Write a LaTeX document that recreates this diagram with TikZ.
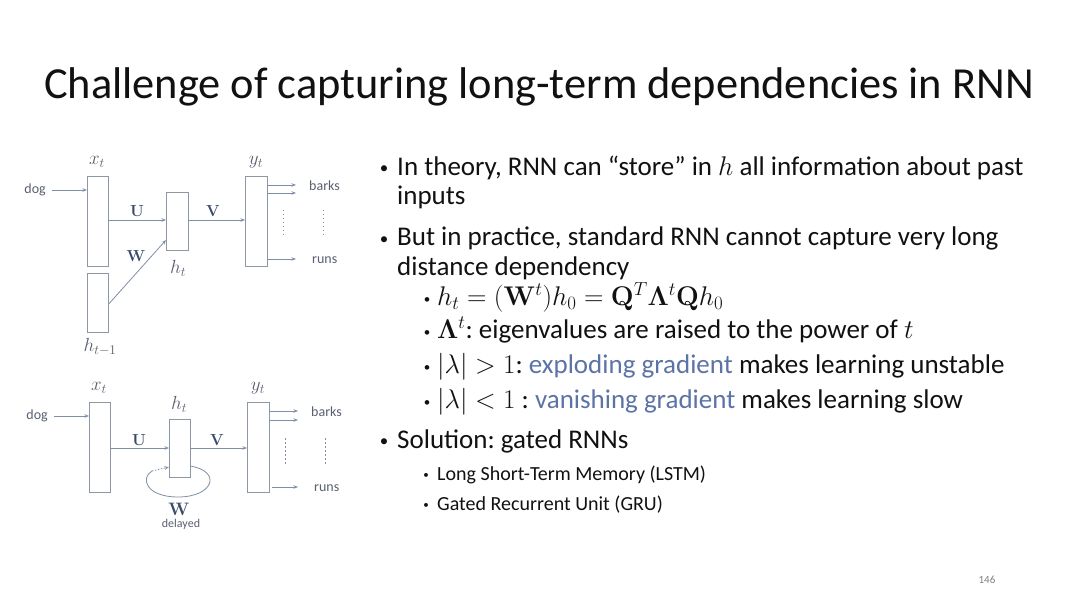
\RequirePackage{fix-cm}
\documentclass[tikz,border=0pt]{standalone}
\usepackage{amsmath}
\usepackage{bm}
\usepackage[no-math]{fontspec}
\setmainfont{Carlito}
\usetikzlibrary{arrows.meta}
\definecolor{ln}{HTML}{7F8FA6}
\definecolor{bx}{HTML}{8E98A4}
\definecolor{lb}{HTML}{5A6070}
\definecolor{bl}{HTML}{3A4A6B}
\definecolor{hl}{HTML}{5B73A6}
\definecolor{tx}{HTML}{111111}
\frenchspacing
\begin{document}
\begin{tikzpicture}[x=1pt,y=-1pt,
  cell/.style={draw=bx,line width=0.8pt,fill=white},
  conn/.style={draw=ln,line width=0.8pt,-{Stealth[length=4.5pt,width=3.5pt]}},
  wlab/.style={font=\fontsize{14}{16}\selectfont,text=lb,inner sep=0},
  mlab/.style={font=\fontsize{19}{21}\selectfont,text=lb,inner sep=0},
  blab/.style={font=\fontsize{16}{18}\selectfont,text=bl,inner sep=0},
  vdots/.style={draw=ln,line width=0.8pt,dash pattern=on 1.5pt off 2.5pt},
  body/.style={anchor=base west,inner sep=0,text=tx,font=\fontsize{27}{30}\selectfont},
  sub/.style={anchor=base west,inner sep=0,text=tx,font=\fontsize{27}{30}\selectfont},
  subsub/.style={anchor=base west,inner sep=0,text=tx,font=\fontsize{20}{23}\selectfont},
  dot/.style={anchor=base,inner sep=0,text=tx}]
\useasboundingbox (0,0) rectangle (1080,607);
\fill[white] (0,0) rectangle (1080,607);

% Title
\node[anchor=base,inner sep=0,text=tx,font=\fontsize{44.4}{50}\selectfont] (title) at (539,99) {Challenge of capturing long-term dependencies in RNN};

% ===== Top diagram =====
\node[cell,minimum width=21pt,minimum height=90pt,inner sep=0,anchor=north west] (x1) at (87,176) {};
\node[cell,minimum width=21pt,minimum height=59pt,inner sep=0,anchor=north west] (hp) at (87,273) {};
\node[cell,minimum width=22pt,minimum height=58pt,inner sep=0,anchor=north west] (h1) at (166,192) {};
\node[cell,minimum width=22pt,minimum height=90pt,inner sep=0,anchor=north west] (y1) at (245,176) {};
\node[mlab] (x1l) at (97,162) {$x_t$};
\node[mlab] (hpl) at (100,347) {$h_{t-1}$};
\node[mlab] (h1l) at (178,268) {$h_t$};
\node[mlab] (y1l) at (256,162) {$y_t$};
\node[wlab,anchor=east] (dog1) at (46,190) {dog};
\draw[conn] (dog1.east) ++(6,0) coordinate (dog1s) -- (x1.west |- dog1s);
\coordinate (u1s) at (108,220);
\draw[conn] (u1s) -- (h1.west |- u1s);
\node[blab] (u1l) at (137,211) {$\mathbf{U}$};
\draw[conn] (hp.east) ++(0,1) -- (166,240);
\node[blab] (w1l) at (136,256) {$\mathbf{W}$};
\coordinate (v1s) at (188,220);
\draw[conn] (v1s) -- (y1.west |- v1s);
\node[blab] (v1l) at (213,211) {$\mathbf{V}$};
\coordinate (b1a) at (267,185);
\coordinate (b1b) at (267,193);
\coordinate (r1a) at (267,259);
\draw[conn] (b1a) -- ++(29,0);
\draw[conn] (b1b) -- ++(29,0);
\draw[conn] (r1a) -- ++(29,0);
\node[wlab,anchor=west] (bk1) at (309,186) {barks};
\node[wlab,anchor=west] (rn1) at (312,260) {runs};
\draw[vdots] (283,210) -- (283,238);
\draw[vdots] (323,210) -- (323,238);

% ===== Bottom diagram =====
\node[cell,minimum width=21pt,minimum height=90pt,inner sep=0,anchor=north west] (x2) at (89,402) {};
\node[cell,minimum width=21pt,minimum height=58pt,inner sep=0,anchor=north west] (h2) at (169,419) {};
\node[cell,minimum width=22pt,minimum height=90pt,inner sep=0,anchor=north west] (y2) at (247,402) {};
\node[mlab] (x2l) at (99,388) {$x_t$};
\node[mlab] (h2l) at (179,404) {$h_t$};
\node[mlab] (y2l) at (258,388) {$y_t$};
\node[wlab,anchor=east] (dog2) at (48,416) {dog};
\draw[conn] (dog2.east) ++(6,0) coordinate (dog2s) -- (x2.west |- dog2s);
\coordinate (u2s) at (110,448);
\draw[conn] (u2s) -- (h2.west |- u2s);
\node[blab] (u2l) at (139,440) {$\mathbf{U}$};
\coordinate (v2s) at (190,448);
\draw[conn] (v2s) -- (y2.west |- v2s);
\node[blab] (v2l) at (217,440) {$\mathbf{V}$};
% recurrent loop
\coordinate (lp0) at (190,466);
\coordinate (lp1) at (178,497);
\coordinate (lp2) at (152,471);
\draw[draw=ln,line width=0.8pt] (lp0) .. controls (222,471) and (214,497) .. (lp1) .. controls (146,497) and (140,478) .. (lp2);
\draw[conn,dash pattern=on 1.5pt off 1.5pt] (lp2) -- (h2.west |- 0,467);
\node[blab,font=\fontsize{18}{20}\selectfont] (w2l) at (179,509) {$\mathbf{W}$};
\node[wlab,font=\fontsize{12}{14}\selectfont] (dl) at (181,524) {delayed};
\coordinate (b2a) at (269,411);
\coordinate (b2b) at (269,420);
\coordinate (r2a) at (272,487);
\draw[conn] (b2a) -- ++(29,0);
\draw[conn] (b2b) -- ++(29,0);
\draw[conn] (r2a) -- ++(26,0);
\node[wlab,anchor=west] (bk2) at (311,412) {barks};
\node[wlab,anchor=west] (rn2) at (314,488) {runs};
\draw[vdots] (285,438) -- (285,464);
\draw[vdots] (325,438) -- (325,464);

% ===== Bullets =====
\node[dot,font=\fontsize{17}{20}\selectfont] (d1) at (384,174) {•};
\node[body] (t1a) at (397,176) {In theory, RNN can “store” in $h$ all information about past};
\node[body] (t1b) at (397,205) {inputs};
\node[dot,font=\fontsize{17}{20}\selectfont] (d2) at (384,244) {•};
\node[body] (t2a) at (397,246) {But in practice, standard RNN cannot capture very long};
\node[body] (t2b) at (397,275) {distance dependency};
\node[dot,font=\fontsize{13}{16}\selectfont] (d3) at (427,303) {•};
\node[sub] (t3) at (437,305) {$h_t=(\mathbf{W}^t)h_0=\mathbf{Q}^T\bm{\Lambda}^t\mathbf{Q}h_0$};
\node[dot,font=\fontsize{13}{16}\selectfont] (d4) at (427,336) {•};
\node[sub] (t4) at (437,338) {$\bm{\Lambda}^{t}$: eigenvalues are raised to the power of $t$};
\node[dot,font=\fontsize{13}{16}\selectfont] (d5) at (427,371) {•};
\node[sub] (t5) at (437,373) {$|\lambda|>1$: \textcolor{hl}{exploding gradient} makes learning unstable};
\node[dot,font=\fontsize{13}{16}\selectfont] (d6) at (427,406) {•};
\node[sub] (t6) at (437,408) {$|\lambda|<1$ : \textcolor{hl}{vanishing gradient} makes learning slow};
\node[dot,font=\fontsize{17}{20}\selectfont] (d7) at (384,446) {•};
\node[body] (t7) at (397,448) {Solution: gated RNNs};
\node[dot,font=\fontsize{11}{14}\selectfont] (d8) at (426,478) {•};
\node[subsub] (t8) at (437,480) {Long Short-Term Memory (LSTM)};
\node[dot,font=\fontsize{11}{14}\selectfont] (d9) at (426,508) {•};
\node[subsub] (t9) at (437,510) {Gated Recurrent Unit (GRU)};

\node[anchor=base,inner sep=0,text=gray,font=\fontsize{11}{13}\selectfont] (pg) at (987,583) {146};
\end{tikzpicture}
\end{document}
